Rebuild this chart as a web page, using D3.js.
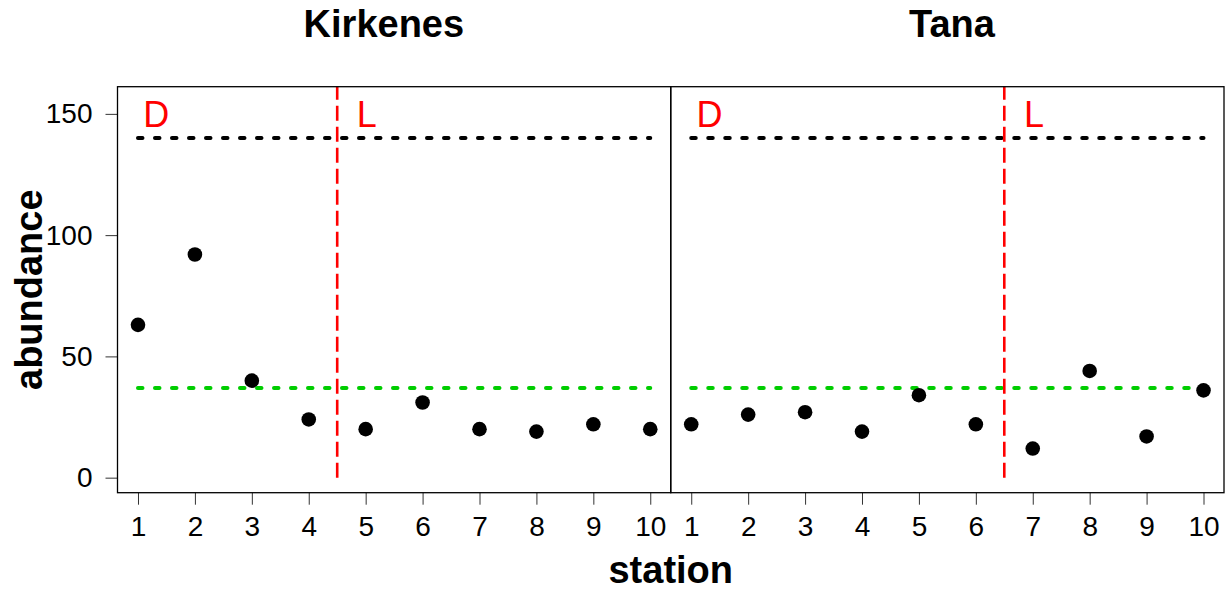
<!DOCTYPE html>
<html>
<head>
<meta charset="utf-8">
<script src="https://cdn.jsdelivr.net/npm/d3@7"></script>
<style>
  body { margin: 0; background: #fff; }
  svg { display: block; font-family: "Liberation Sans", Arial, Helvetica, sans-serif; }
</style>
</head>
<body>
<div id="chart"></div>
<script>
// 資料
const stations = [1, 2, 3, 4, 5, 6, 7, 8, 9, 10];
const panelNames = ["Kirkenes", "Tana"];
const kirkenesAbundance = [63, 92, 40, 24, 20, 31, 20, 19, 22, 20];
const tanaAbundance = [22, 26, 27, 19, 34, 22, 12, 44, 17, 36];
const boundaries = [4.5, 6.5]; // D / L split per panel
const upperRef = 140; // black dotted
const lowerRef = 37; // green dotted
const yTicks = [0, 50, 100, 150];
const titleX = [5.32, 5.58];

const width = 1231;
const height = 592;
const plotTop = 86.7;
const plotBottom = 492.7;
const plotLeft = 117.5;
const plotRight = 1224;
const panelW = (plotRight - plotLeft) / 2;

const svg = d3
  .select("#chart")
  .append("svg")
  .attr("width", width)
  .attr("height", height);

const y = d3.scaleLinear().domain([-6.2, 161.2]).range([plotBottom, plotTop]);

[kirkenesAbundance, tanaAbundance].forEach((values, p) => {
  const x0 = plotLeft + p * panelW;
  const x = d3
    .scaleLinear()
    .domain([0.64, 10.36])
    .range([x0, x0 + panelW]);

  const g = svg.append("g");

  // 標題
  svg
    .append("text")
    .attr("x", x(titleX[p]))
    .attr("y", 37)
    .attr("text-anchor", "middle")
    .style("font-size", "38px")
    .style("font-weight", "bold")
    .text(panelNames[p]);

  // x 軸
  const xAxis = g
    .append("g")
    .attr("transform", `translate(0, ${plotBottom})`)
    .call(d3.axisBottom(x).tickValues(stations).tickSize(12).tickPadding(11));
  xAxis.select(".domain").remove();
  xAxis.selectAll("text").style("font-size", "28px").attr("fill", "#000");
  xAxis.selectAll("line").attr("stroke", "#333");

  if (p === 0) {
    const yAxis = g
      .append("g")
      .attr("transform", `translate(${plotLeft}, 0)`)
      .call(d3.axisLeft(y).tickValues(yTicks).tickSize(12).tickPadding(13));
    yAxis.select(".domain").remove();
    yAxis.selectAll("text").style("font-size", "28px").attr("fill", "#000");
    yAxis.selectAll("line").attr("stroke", "#333");
  }

  // 參考線
  [
    { value: upperRef, color: "#000" },
    { value: lowerRef, color: "#00cd00" },
  ].forEach(({ value, color }) => {
    g.append("line")
      .attr("x1", x(stations[0]))
      .attr("x2", x(stations[stations.length - 1]))
      .attr("y1", y(value))
      .attr("y2", y(value))
      .attr("stroke", color)
      .attr("stroke-width", 4)
      .attr("stroke-linecap", "round")
      .attr("stroke-dasharray", "4.5 12.5");
  });

  // 分界線
  g.append("line")
    .attr("x1", x(boundaries[p]))
    .attr("x2", x(boundaries[p]))
    .attr("y1", y(0))
    .attr("y2", plotTop)
    .attr("stroke", "red")
    .attr("stroke-width", 2.6)
    .attr("stroke-dasharray", "15 6");

  [
    { label: "D", at: 1.32 },
    { label: "L", at: boundaries[p] + 0.52 },
  ].forEach(({ label, at }) => {
    g.append("text")
      .attr("x", x(at))
      .attr("y", y(150) + 0.358 * 36)
      .attr("text-anchor", "middle")
      .attr("fill", "red")
      .style("font-size", "36px")
      .text(label);
  });

  // 點
  g.selectAll("circle")
    .data(values)
    .enter()
    .append("circle")
    .attr("cx", (d, i) => x(stations[i]))
    .attr("cy", (d) => y(d))
    .attr("r", 7.3)
    .attr("fill", "#000");

  g.append("rect")
    .attr("x", x0)
    .attr("y", plotTop)
    .attr("width", panelW)
    .attr("height", plotBottom - plotTop)
    .attr("fill", "none")
    .attr("stroke", "#000")
    .attr("stroke-width", 1.3);
});

svg
  .append("text")
  .attr("x", plotLeft + panelW)
  .attr("y", 583)
  .attr("text-anchor", "middle")
  .style("font-size", "38px")
  .style("font-weight", "bold")
  .text("station");

svg
  .append("text")
  .attr("transform", `translate(41.7, ${(plotTop + plotBottom) / 2}) rotate(-90)`)
  .attr("text-anchor", "middle")
  .style("font-size", "38px")
  .style("font-weight", "bold")
  .text("abundance");
</script>
</body>
</html>
